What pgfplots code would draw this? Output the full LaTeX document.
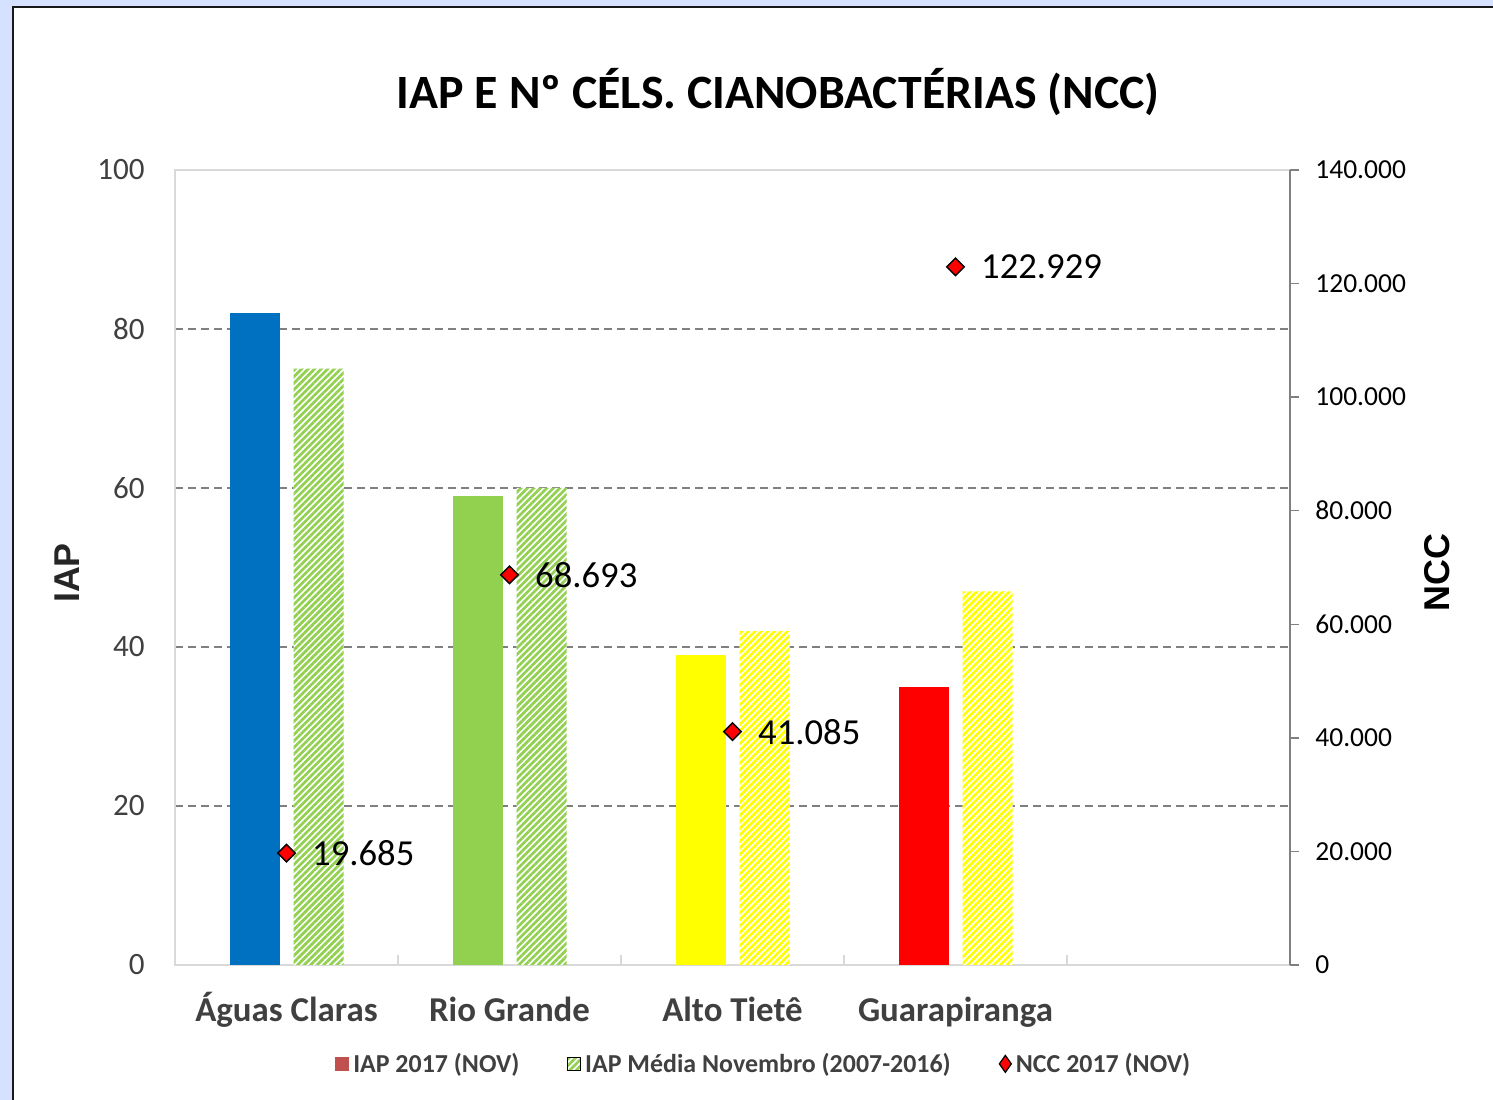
\documentclass[border=0pt]{standalone}
\usepackage{fontspec}
\setmainfont{Carlito}
\newfontfamily\arialfont{Liberation Sans}
\usepackage{pgfplots}
\pgfplotsset{compat=1.18}
\usetikzlibrary{patterns.meta}
\definecolor{bgblue}{RGB}{214,224,255}
\definecolor{cblue}{RGB}{0,112,192}
\definecolor{cgreen}{RGB}{146,208,80}
\definecolor{cyellow}{RGB}{255,255,0}
\definecolor{cred}{RGB}{255,0,0}
\definecolor{legred}{RGB}{192,80,77}
\definecolor{txtgray}{RGB}{64,64,64}
\definecolor{gridgray}{RGB}{128,128,128}
\definecolor{framegray}{RGB}{217,217,217}
\tikzset{
  hatchgreen/.style={fill=white, postaction={pattern={Lines[angle=45,distance=2.3bp,line width=1.35bp]}, pattern color=cgreen}},
  hatchyellow/.style={fill=white, postaction={pattern={Lines[angle=45,distance=2.3bp,line width=1.35bp]}, pattern color=cyellow}},
}
\begin{document}
\begin{tikzpicture}
\clip (0,0) rectangle (746.5bp,550bp);
\fill[bgblue] (0,0) rectangle (746.5bp,550bp);
\filldraw[fill=white, draw=black!90, line width=1bp] (6.5bp,-10bp) rectangle (760bp,546.6bp);

\begin{axis}[
  at={(87.5bp,67.5bp)}, anchor=south west,
  scale only axis, width=557.5bp, height=397.5bp,
  xmin=-0.5, xmax=4.5, ymin=0, ymax=100,
  axis line style={draw=framegray, line width=0.75bp},
  xtick={0,1,2,3},
  xticklabels={Águas Claras,Rio Grande,Alto Tietê,Guarapiranga},
  minor xtick={-0.5,0.5,1.5,2.5,3.5,4.5},
  major tick length=0pt,
  minor tick length=5bp,
  tick align=inside,
  minor x tick style={draw=framegray, line width=0.75bp},
  xtick pos=bottom, ytick pos=left,
  xticklabel style={anchor=base, inner sep=0pt, yshift=-28bp, font=\bfseries\fontsize{17.5}{20}\selectfont, text=txtgray},
  ytick={20,40,60,80},
  extra y ticks={0,100},
  extra y tick style={grid=none},
  ymajorgrids,
  grid style={draw=gridgray, dash pattern=on 4bp off 2.5bp, line width=0.6bp},
  yticklabel style={anchor=east, inner sep=0pt, xshift=-15bp, font=\fontsize{15.6}{18}\selectfont, text=txtgray},
  /pgf/number format/assume math mode=true,
  title={IAP E Nº CÉLS. CIANOBACTÉRIAS (NCC)},
  title style={font=\bfseries\fontsize{24}{28}\selectfont, at={(axis description cs:0.541,1.083)}, anchor=center, inner sep=0pt},
  ylabel={IAP},
  ylabel style={font=\arialfont\bfseries\fontsize{18}{20}\selectfont, text=black!85, at={(axis description cs:-0.097,0.493)}, anchor=center, inner sep=0pt},
  legend columns=3,
  legend style={at={(axis description cs:0.529,-0.125)}, anchor=center, draw=none, fill=none,
    font=\bfseries\fontsize{13}{15}\selectfont, text=txtgray,
    /tikz/every even column/.append style={column sep=22bp},
    cells={anchor=west}, inner sep=0pt},
]
\addplot[ybar, bar width=25bp, bar shift=-16bp, draw=none, fill=cblue, forget plot] coordinates {(0,82)};
\addplot[ybar, bar width=25bp, bar shift=-16bp, draw=none, fill=cgreen, forget plot] coordinates {(1,59)};
\addplot[ybar, bar width=25bp, bar shift=-16bp, draw=none, fill=cyellow, forget plot] coordinates {(2,39)};
\addplot[ybar, bar width=25bp, bar shift=-16bp, draw=none, fill=cred, forget plot] coordinates {(3,35)};
\addplot[ybar, bar width=25bp, bar shift=16bp, draw=none, hatchgreen, forget plot] coordinates {(0,75) (1,60)};
\addplot[ybar, bar width=25bp, bar shift=16bp, draw=none, hatchyellow, forget plot] coordinates {(2,42) (3,47)};
\addlegendimage{legend image code/.code={\fill[legred] (0bp,-3bp) rectangle (6.5bp,3.5bp);}}
\addlegendentry{IAP 2017 (NOV)}
\addlegendimage{legend image code/.code={\fill[white] (0bp,-3bp) rectangle (6.5bp,3.5bp); \path[pattern={Lines[angle=45,distance=2.3bp,line width=1.35bp]}, pattern color=cgreen] (0bp,-3bp) rectangle (6.5bp,3.5bp);}}
\addlegendentry{IAP Média Novembro (2007-2016)}
\addlegendimage{legend image code/.code={\filldraw[fill=cred,draw=black,line width=0.6bp] (0,0.25bp)--(3bp,4.5bp)--(6bp,0.25bp)--(3bp,-4bp)--cycle;}}
\addlegendentry{NCC 2017 (NOV)}
\end{axis}

\begin{axis}[
  at={(87.5bp,67.5bp)}, anchor=south west,
  scale only axis, width=557.5bp, height=397.5bp,
  xmin=-0.5, xmax=4.5, ymin=0, ymax=140000,
  axis x line=none,
  axis y line*=right,
  y axis line style={draw=gridgray, line width=0.75bp, -},
  ytick={0,20000,40000,60000,80000,100000,120000,140000},
  scaled y ticks=false,
  tick align=outside,
  major tick length=4.5bp,
  ytick style={draw=gridgray, line width=0.75bp},
  /pgf/number format/.cd, fixed, 1000 sep={.}, assume math mode=true, /pgfplots/.cd,
  yticklabel style={anchor=west, inner sep=0pt, xshift=8bp, font=\fontsize{13.8}{16}\selectfont, text=black},
  ylabel={NCC},
  ylabel style={font=\arialfont\bfseries\fontsize{18}{20}\selectfont, text=black, at={(axis description cs:1.132,0.494)}, anchor=center, inner sep=0pt},
]
\addplot[only marks, mark=square*, mark size=3.1bp,
  mark options={rotate=45, fill=cred, draw=black, line width=0.7bp},
  nodes near coords,
  nodes near coords style={anchor=west, inner sep=0pt, xshift=12.5bp, font=\fontsize{18.4}{21}\selectfont, text=black}]
  coordinates {(0,19685) (1,68693) (2,41085) (3,122929)};
\end{axis}
\end{tikzpicture}
\end{document}
